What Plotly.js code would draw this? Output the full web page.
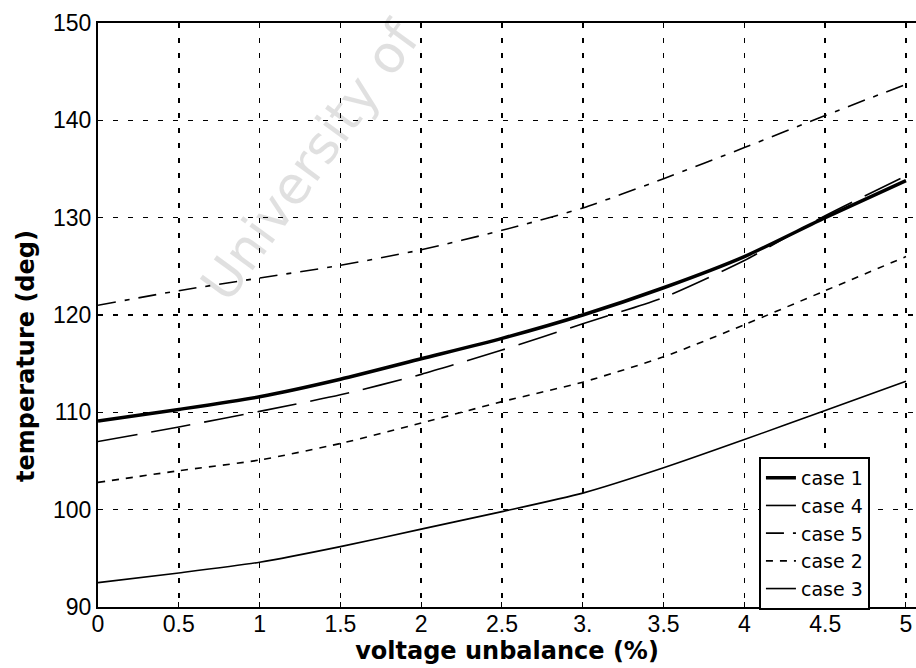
<!DOCTYPE html>
<html>
<head>
<meta charset="utf-8">
<script src="https://cdn.plot.ly/plotly-3.0.1.min.js"></script>
<style>html,body{margin:0;padding:0;background:#fff;}</style>
</head>
<body>
<div id="chart" style="width:916px;height:668px;"></div>
<script>
// Data
const unbalance = [0, 0.5, 1, 1.5, 2, 2.5, 3, 3.5, 4, 4.5, 5];
const case1 = [109.1, 110.3, 111.6, 113.4, 115.5, 117.6, 120.0, 122.8, 126.0, 130.0, 133.8];
const case4 = [107.0, 108.5, 110.1, 111.8, 113.9, 116.4, 119.1, 121.8, 125.6, 130.2, 134.3];
const case5 = [121.0, 122.5, 123.8, 125.1, 126.7, 128.7, 131.0, 134.0, 137.2, 140.5, 143.7];
const case2 = [102.8, 104.0, 105.1, 106.8, 108.9, 111.1, 113.1, 115.7, 119.0, 122.5, 126.0];
const case3 = [92.5, 93.5, 94.6, 96.2, 98.0, 99.8, 101.7, 104.3, 107.2, 110.2, 113.2];
const seriesNames = ["case 1", "case 4", "case 5", "case 2", "case 3"];
const xTicks = [0, 0.5, 1, 1.5, 2, 2.5, 3, 3.5, 4, 4.5, 5];
const xTickText = ["0", "0.5", "1", "1.5", "2", "2.5", "3.", "3.5", "4", "4.5", "5"];
const yTicks = [90, 100, 110, 120, 130, 140, 150];
const xTitle = "voltage unbalance (%)";
const yTitle = "temperature (deg)";

const values = [case1, case4, case5, case2, case3];
const styles = [
  {width: 3.5, dash: "solid"},
  {width: 1.6, dash: "40px,14px"},
  {width: 1.6, dash: "18px,9px,5px,9px"},
  {width: 1.6, dash: "7px,7px"},
  {width: 1.6, dash: "solid"}
];

const traces = values.map((v, i) => ({
  type: "scatter",
  mode: "lines",
  x: unbalance,
  y: v,
  name: seriesNames[i],
  line: {color: "#000", width: styles[i].width, dash: styles[i].dash, shape: "spline", smoothing: 0.6}
}));

const titleFont = {family: "DejaVu Sans, sans-serif", size: 24, weight: "bold", color: "#000"};

const layout = {
  width: 916,
  height: 668,
  margin: {l: 98, r: 0, t: 23, b: 61},
  paper_bgcolor: "#fff",
  plot_bgcolor: "#fff",
  font: {family: "Liberation Sans, Arial, sans-serif", color: "#000", size: 23},
  showlegend: true,
  xaxis: {
    range: [0, 5.062],
    tickvals: xTicks,
    ticktext: xTickText,
    ticks: "inside",
    ticklen: 5,
    tickcolor: "#000",
    ticklabelstandoff: -5,
    showline: true,
    linecolor: "#000",
    linewidth: 2,
    mirror: true,
    showgrid: true,
    gridcolor: "#000",
    gridwidth: 1.5,
    griddash: "5px,10px",
    zeroline: false,
    tickfont: {size: 23, family: "Liberation Sans, Arial, sans-serif"},
    title: {text: xTitle, standoff: 0, font: titleFont}
  },
  yaxis: {
    range: [90, 150],
    tickvals: yTicks,
    ticks: "inside",
    ticklen: 5,
    tickcolor: "#000",
    showline: true,
    linecolor: "#000",
    linewidth: 2,
    mirror: true,
    showgrid: true,
    gridcolor: "#000",
    gridwidth: 1.5,
    griddash: "5px,10px",
    zeroline: false,
    tickfont: {size: 23, family: "Liberation Sans, Arial, sans-serif"}
  },
  legend: {
    x: 0.808, y: 0.257, xanchor: "left", yanchor: "top",
    bgcolor: "#fff",
    bordercolor: "#000",
    borderwidth: 2,
    font: {family: "DejaVu Sans, sans-serif", size: 19, color: "#000"},
    tracegroupgap: 0
  },
  annotations: [
    {
      text: yTitle,
      xref: "paper", yref: "paper",
      x: -0.088, y: 0.43,
      xanchor: "center", yanchor: "middle",
      showarrow: false,
      textangle: -90,
      font: titleFont
    },
    {
      text: "University of",
      xref: "paper", yref: "paper",
      x: 0.26, y: 0.765,
      xanchor: "center", yanchor: "middle",
      showarrow: false,
      textangle: -54,
      font: {family: "DejaVu Sans, sans-serif", size: 52, color: "rgba(0,0,0,0.12)"}
    }
  ]
};

Plotly.newPlot("chart", traces, layout, {displayModeBar: false, staticPlot: true});
</script>
</body>
</html>
